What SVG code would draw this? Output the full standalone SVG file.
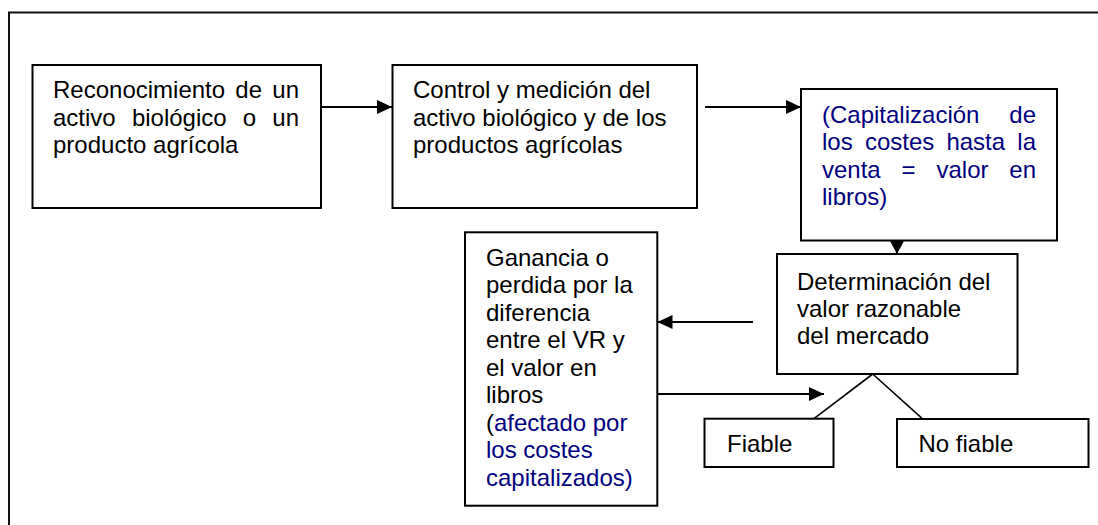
<svg xmlns="http://www.w3.org/2000/svg" width="1098" height="525" viewBox="0 0 1098 525">
<style>
.box{fill:#fff;stroke:#000;stroke-width:2}
.t{font-family:"Liberation Sans",Arial,sans-serif;font-size:24px;fill:#000}
.b{fill:#000080}
.con{stroke:#000;stroke-width:2;fill:none}
.thin{stroke:#000;stroke-width:1.6;fill:none}
</style>
<defs>
<marker id="ah" markerUnits="userSpaceOnUse" markerWidth="15" markerHeight="14" refX="15" refY="7" orient="auto">
<path d="M0,0 L15,7 L0,14 z" fill="#000"/>
</marker>
<marker id="ahd" markerUnits="userSpaceOnUse" markerWidth="13" markerHeight="14" refX="13" refY="7" orient="auto">
<path d="M0,0 L13,7 L0,14 z" fill="#000"/>
</marker>
</defs>
<rect x="9" y="12.5" width="1100" height="530" fill="#fff" stroke="#111" stroke-width="2"/>

<g id="connectors">
<line class="con" x1="321" y1="107" x2="392" y2="107" marker-end="url(#ah)"/>
<line class="con" x1="705" y1="107" x2="801" y2="107" marker-end="url(#ah)"/>
<line class="con" x1="897" y1="241" x2="897" y2="254" marker-end="url(#ahd)"/>
<line class="con" x1="753" y1="322" x2="657.5" y2="322" marker-end="url(#ah)"/>
<line class="con" x1="657" y1="394" x2="824" y2="394" marker-end="url(#ah)"/>
<line class="thin" x1="872.7" y1="374" x2="814" y2="418.7"/>
<line class="thin" x1="872.7" y1="374" x2="922.3" y2="418.7"/>
</g>

<g id="n1">
<rect class="box" x="32.5" y="65" width="288.5" height="143"/>
<text class="t"><tspan x="53" y="98">Reconocimiento</tspan><tspan x="235.3" y="98">de</tspan><tspan x="299" y="98" text-anchor="end">un</tspan></text>
<text class="t"><tspan x="53" y="125.5">activo</tspan><tspan x="131.9" y="125.5">biológico</tspan><tspan x="242.8" y="125.5">o</tspan><tspan x="299" y="125.5" text-anchor="end">un</tspan></text>
<text class="t" x="53" y="153">producto agrícola</text>
</g>

<g id="n2">
<rect class="box" x="392.5" y="65" width="304.5" height="143"/>
<text class="t" x="413" y="98">Control y medición del</text>
<text class="t" x="413" y="125.5">activo biológico y de los</text>
<text class="t" x="413" y="153">productos agrícolas</text>
</g>

<g id="n3">
<rect class="box" x="801" y="89" width="256" height="151.5"/>
<text class="t b"><tspan x="822" y="122.5">(Capitalización</tspan><tspan x="1036" y="122.5" text-anchor="end">de</tspan></text>
<text class="t b"><tspan x="822" y="150">los</tspan><tspan x="864.9" y="150">costes</tspan><tspan x="946.4" y="150">hasta</tspan><tspan x="1036" y="150" text-anchor="end">la</tspan></text>
<text class="t b"><tspan x="822" y="177.5">venta</tspan><tspan x="901.6" y="177.5">=</tspan><tspan x="936.5" y="177.5">valor</tspan><tspan x="1036" y="177.5" text-anchor="end">en</tspan></text>
<text class="t b" x="822" y="205">libros)</text>
</g>

<g id="n4">
<rect class="box" x="777" y="254" width="240.5" height="120"/>
<text class="t" x="797" y="289.5">Determinación del</text>
<text class="t" x="797" y="317">valor razonable</text>
<text class="t" x="797" y="344">del mercado</text>
</g>

<g id="n5">
<rect class="box" x="465" y="232.3" width="192.3" height="273.4"/>
<text class="t" x="486" y="265.7">Ganancia o</text>
<text class="t" x="486" y="293.3">perdida por la</text>
<text class="t" x="486" y="320.7">diferencia</text>
<text class="t" x="486" y="348.3">entre el VR y</text>
<text class="t" x="486" y="376">el valor en</text>
<text class="t" x="486" y="403.3">libros</text>
<text class="t" x="486" y="431">(<tspan class="b">afectado por</tspan></text>
<text class="t b" x="486" y="458.3">los costes</text>
<text class="t b" x="486" y="486">capitalizados)</text>
</g>

<g id="n6">
<rect class="box" x="704.5" y="418.7" width="129" height="48.3"/>
<text class="t" x="727" y="451.5">Fiable</text>
</g>

<g id="n7">
<rect class="box" x="897" y="419" width="191.5" height="48"/>
<text class="t" x="918.5" y="451.5">No fiable</text>
</g>
</svg>
